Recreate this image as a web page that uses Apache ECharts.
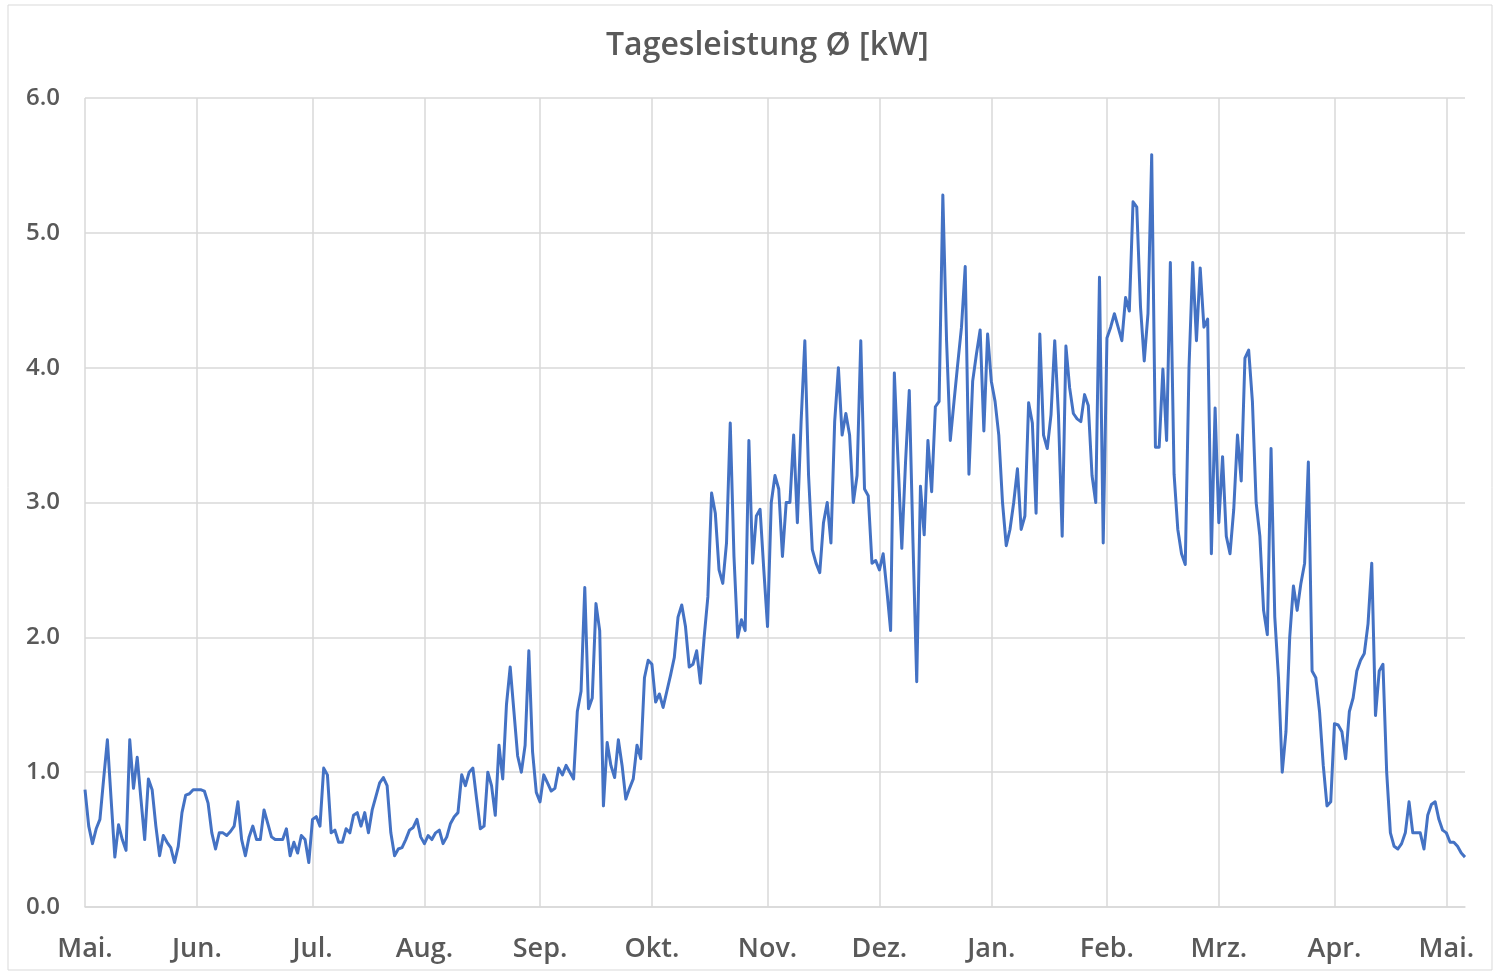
<!DOCTYPE html>
<html>
<head>
<meta charset="utf-8">
<script src="https://cdn.jsdelivr.net/npm/echarts@6/dist/echarts.min.js"></script>
<style>
  html, body { margin: 0; padding: 0; background: #fff; }
  #chart { width: 1501px; height: 975px; }
</style>
</head>
<body>
<div id="chart"></div>
<script>
// Tagesleistung je Tag ueber ein Jahr (kW)
// Monatsmarken sitzen im Original in fast gleichen Abstaenden, daher feste Tag-Indizes
const monthLabels = ['Mai.', 'Jun.', 'Jul.', 'Aug.', 'Sep.', 'Okt.', 'Nov.', 'Dez.', 'Jan.', 'Feb.', 'Mrz.', 'Apr.', 'Mai.']
const monthTickIdx = [0, 30, 61, 91, 122, 152, 183, 213, 243, 274, 304, 335, 365]
const yTicks = [0, 1, 2, 3, 4, 5, 6]

const part1 = [0.87, 0.6, 0.47, 0.58, 0.65, 0.95, 1.24, 0.8, 0.37, 0.61, 0.5, 0.42, 1.24, 0.88, 1.11, 0.8, 0.5, 0.95, 0.87, 0.6, 0.38, 0.53, 0.48, 0.44, 0.33, 0.45, 0.7, 0.83, 0.84, 0.87, 0.87]
const part2 = [0.87, 0.86, 0.77, 0.55, 0.43, 0.55, 0.55, 0.53, 0.56, 0.6, 0.78, 0.5, 0.38, 0.52, 0.6, 0.5, 0.5, 0.72, 0.62, 0.52, 0.5, 0.5, 0.5, 0.58, 0.38, 0.48, 0.4, 0.53, 0.5, 0.33]
const part3 = [0.65, 0.67, 0.6, 1.03, 0.98, 0.55, 0.57, 0.48, 0.48, 0.58, 0.55, 0.68, 0.7, 0.6, 0.7, 0.55, 0.72, 0.82, 0.92, 0.96, 0.9, 0.55, 0.38, 0.43, 0.44, 0.5, 0.57, 0.59, 0.65, 0.52, 0.47]
const part4 = [0.53, 0.5, 0.55, 0.57, 0.47, 0.52, 0.62, 0.67, 0.7, 0.98, 0.9, 1.0, 1.03, 0.8, 0.58, 0.6, 1.0, 0.9, 0.68, 1.2, 0.95, 1.5, 1.78, 1.45, 1.12, 1.0, 1.2, 1.9, 1.15, 0.85, 0.78]
const part5 = [0.98, 0.92, 0.86, 0.88, 1.03, 0.98, 1.05, 1.0, 0.95, 1.45, 1.6, 2.37, 1.47, 1.55, 2.25, 2.05, 0.75, 1.22, 1.05, 0.96, 1.24, 1.05, 0.8, 0.88, 0.95, 1.2, 1.1, 1.7, 1.83, 1.8]
const part6 = [1.52, 1.58, 1.48, 1.6, 1.72, 1.85, 2.15, 2.24, 2.08, 1.78, 1.8, 1.9, 1.66, 2.0, 2.3, 3.07, 2.92, 2.5, 2.4, 2.7, 3.59, 2.6, 2.0, 2.13, 2.05, 3.46, 2.55, 2.9, 2.95, 2.5, 2.08]
const part7 = [3.0, 3.2, 3.1, 2.6, 3.0, 3.0, 3.5, 2.85, 3.6, 4.2, 3.2, 2.65, 2.55, 2.48, 2.85, 3.0, 2.7, 3.6, 4.0, 3.5, 3.66, 3.5, 3.0, 3.2, 4.2, 3.1, 3.05, 2.55, 2.57, 2.5]
const part8 = [2.62, 2.35, 2.05, 3.96, 3.3, 2.66, 3.3, 3.83, 2.7, 1.67, 3.12, 2.76, 3.46, 3.08, 3.71, 3.75, 5.28, 4.2, 3.46, 3.75, 4.03, 4.3, 4.75, 3.21, 3.9, 4.1, 4.28, 3.53, 4.25, 3.9, 3.75]
const part9 = [3.5, 3.0, 2.68, 2.8, 3.0, 3.25, 2.8, 2.9, 3.74, 3.59, 2.92, 4.25, 3.5, 3.4, 3.65, 4.2, 3.65, 2.75, 4.16, 3.85, 3.66, 3.62, 3.6, 3.8, 3.72, 3.2, 3.0, 4.67, 2.7, 4.22, 4.3]
const part10 = [4.4, 4.3, 4.2, 4.52, 4.42, 5.23, 5.19, 4.45, 4.05, 4.4, 5.58, 3.41, 3.41, 3.99, 3.46, 4.78, 3.21, 2.8, 2.62, 2.54, 4.0, 4.78, 4.2, 4.74, 4.3, 4.36, 2.62, 3.7]
const part11 = [2.85, 3.34, 2.75, 2.62, 2.95, 3.5, 3.16, 4.07, 4.13, 3.75, 3.0, 2.75, 2.2, 2.02, 3.4, 2.15, 1.7, 1.0, 1.3, 2.0, 2.38, 2.2, 2.4, 2.55, 3.3, 1.75, 1.7, 1.45, 1.05, 0.75, 0.78]
const part12 = [1.36, 1.35, 1.3, 1.1, 1.45, 1.55, 1.75, 1.83, 1.88, 2.1, 2.55, 1.42, 1.75, 1.8, 1.0, 0.55, 0.45, 0.43, 0.47, 0.55, 0.78, 0.55, 0.55, 0.55, 0.43, 0.68, 0.76, 0.78, 0.65, 0.57]
const part13 = [0.55, 0.48, 0.48, 0.45, 0.4, 0.37]

const values = [].concat(part1, part2, part3, part4, part5, part6, part7, part8, part9, part10, part11, part12, part13)

// one category per day
const days = values.map((v, i) => String(i + 1))
const isMonthTick = (idx) => monthTickIdx.indexOf(idx) !== -1

const textColor = '#595959'
const gridColor = '#D9D9D9'
const font = 'Open Sans'

const chart = echarts.init(document.getElementById('chart'))
chart.setOption({
  animation: false,
  backgroundColor: '#fff',
  graphic: [{
    type: 'rect',
    shape: { x: 8, y: 5, width: 1484, height: 965 },
    style: { fill: 'none', stroke: gridColor, lineWidth: 1 },
    silent: true
  }],
  title: {
    text: 'Tagesleistung Ø [kW]',
    left: 601,
    top: 25,
    textStyle: {
      fontFamily: font,
      fontSize: 32,
      fontWeight: 600,
      color: textColor
    }
  },
  grid: {
    left: 85,
    right: 36,
    top: 98,
    bottom: 68
  },
  xAxis: {
    type: 'category',
    data: days,
    boundaryGap: false,
    axisTick: { show: false },
    axisLine: { lineStyle: { color: gridColor, width: 1.5 } },
    axisLabel: {
      interval: isMonthTick,
      margin: 29,
      fontFamily: font,
      fontSize: 27,
      fontWeight: 600,
      color: textColor,
      formatter: function (val, idx) {
        return monthLabels[monthTickIdx.indexOf(idx)]
      }
    },
    splitLine: {
      show: true,
      interval: isMonthTick,
      lineStyle: { color: gridColor, width: 1.5 }
    }
  },
  yAxis: {
    type: 'value',
    min: yTicks[0],
    max: yTicks[yTicks.length - 1],
    interval: 1,
    axisLine: { show: false },
    axisTick: { show: false },
    axisLabel: {
      margin: 25,
      fontFamily: font,
      fontSize: 24,
      fontWeight: 600,
      color: textColor,
      formatter: function (v) { return v.toFixed(1) }
    },
    splitLine: { lineStyle: { color: gridColor, width: 1.5 } }
  },
  series: [{
    name: 'Tagesleistung',
    type: 'line',
    data: values,
    showSymbol: false,
    lineStyle: { color: '#4472C4', width: 3, join: 'round' },
    itemStyle: { color: '#4472C4' }
  }]
})
</script>
</body>
</html>
